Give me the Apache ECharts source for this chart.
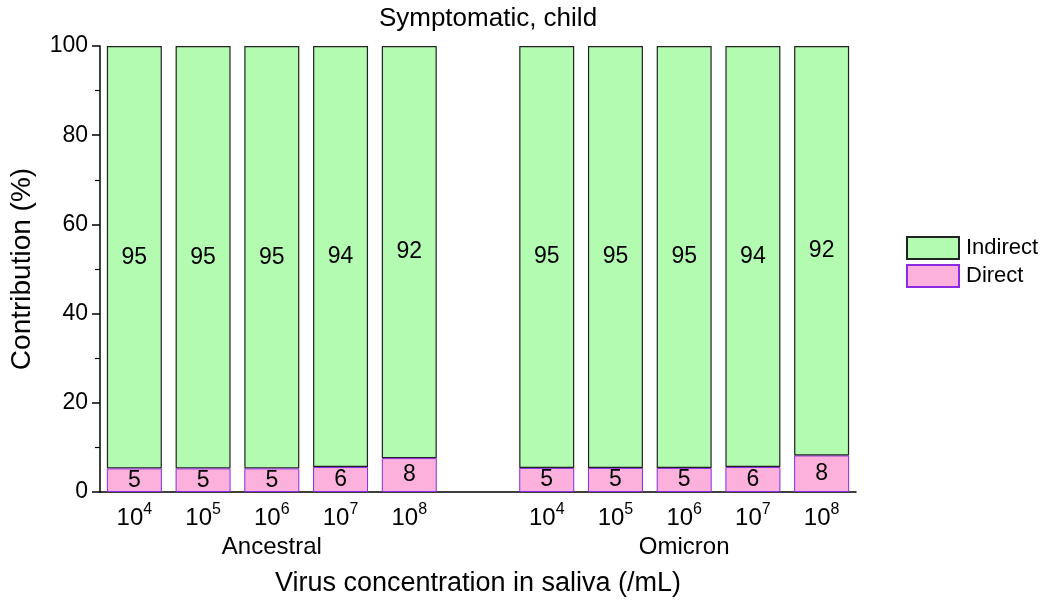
<!DOCTYPE html>
<html>
<head>
<meta charset="utf-8">
<script src="https://cdn.jsdelivr.net/npm/echarts@6/dist/echarts.min.js"></script>
<style>
  html, body { margin: 0; padding: 0; background: #fff; }
  #chart { width: 1045px; height: 603px; }
</style>
</head>
<body>
<div id="chart"></div>
<script>
// 11 slots: 5 Ancestral, an empty gap, 5 Omicron
var exponents = ['4', '5', '6', '7', '8', '', '4', '5', '6', '7', '8']
var groupLabels = ['', '', 'Ancestral', '', '', '', '', '', 'Omicron', '', '']
var direct = [5.3, 5.3, 5.3, 5.6, 7.6, '-', 5.4, 5.4, 5.4, 5.6, 8.2]
var indirect = [94.7, 94.7, 94.7, 94.4, 92.4, '-', 94.6, 94.6, 94.6, 94.4, 91.8]
var yTicks = [0, 20, 40, 60, 80, 100]

var chartDom = document.getElementById('chart')
var myChart = echarts.init(chartDom)

var font = 'Arial, "Liberation Sans", sans-serif'
var labelFmt = function (p) { return Math.round(p.value) }

var option = {
  animation: false,
  textStyle: { fontFamily: font, color: '#000' },
  title: {
    text: 'Symptomatic, child',
    left: 483,
    textAlign: 'center',
    top: 1,
    textStyle: { fontFamily: font, fontSize: 26, fontWeight: 'normal', color: '#000' }
  },
  legend: {
    orient: 'vertical',
    left: 906,
    top: 236,
    padding: 0,
    itemWidth: 52,
    itemHeight: 22,
    itemGap: 4,
    icon: 'rect',
    data: ['Indirect', 'Direct'],
    textStyle: { fontFamily: font, fontSize: 22, color: '#000', padding: [0, 0, 0, 2] }
  },
  grid: { left: 100, right: 189, top: 46, bottom: 111 },
  xAxis: [
    {
      type: 'category',
      data: exponents,
      name: 'Virus concentration in saliva (/mL)',
      nameLocation: 'middle',
      nameGap: 78,
      nameTextStyle: { fontFamily: font, fontSize: 27, color: '#000' },
      axisLine: { lineStyle: { color: '#000', width: 1.5 } },
      axisTick: { alignWithLabel: true, interval: 0, length: 7, lineStyle: { color: '#000', width: 1.5 } },
      axisLabel: {
        interval: 0,
        margin: 10,
        formatter: function (v) { return v === '' ? '' : '{b|10}{s|' + v + '}' },
        rich: {
          b: { fontFamily: font, fontSize: 24, color: '#000', verticalAlign: 'bottom' },
          s: { fontFamily: font, fontSize: 16, color: '#000', verticalAlign: 'top', padding: [0, 0, 12, 0] }
        }
      }
    },
    {
      type: 'category',
      data: groupLabels,
      position: 'bottom',
      offset: 35,
      axisLine: { show: false },
      axisTick: { show: false },
      axisLabel: { interval: 0, fontFamily: font, fontSize: 24, color: '#000' }
    }
  ],
  yAxis: {
    type: 'value',
    min: yTicks[0],
    max: yTicks[yTicks.length - 1],
    interval: 20,
    name: 'Contribution (%)',
    nameLocation: 'middle',
    nameGap: 64,
    nameTextStyle: { fontFamily: font, fontSize: 28, color: '#000' },
    axisLine: { show: true, lineStyle: { color: '#000', width: 1.5 } },
    axisTick: { show: true, length: 8, lineStyle: { color: '#000', width: 1.5 } },
    minorTick: { show: true, splitNumber: 2, length: 5, lineStyle: { color: '#000', width: 1.2 } },
    splitLine: { show: false },
    axisLabel: { fontFamily: font, fontSize: 23, color: '#000', margin: 12 }
  },
  series: [
    {
      name: 'Direct',
      type: 'bar',
      stack: 'total',
      barWidth: '80%',
      data: direct,
      itemStyle: { color: '#fbb1dc', borderColor: '#8a2be2', borderWidth: 1 },
      label: { show: true, position: 'inside', formatter: labelFmt, fontFamily: font, fontSize: 23, color: '#000' }
    },
    {
      name: 'Indirect',
      type: 'bar',
      stack: 'total',
      barWidth: '80%',
      data: indirect,
      itemStyle: { color: '#b3fbb0', borderColor: '#222', borderWidth: 1.2 },
      label: { show: true, position: 'inside', formatter: labelFmt, fontFamily: font, fontSize: 23, color: '#000' }
    }
  ]
}

option && myChart.setOption(option)
</script>
</body>
</html>
